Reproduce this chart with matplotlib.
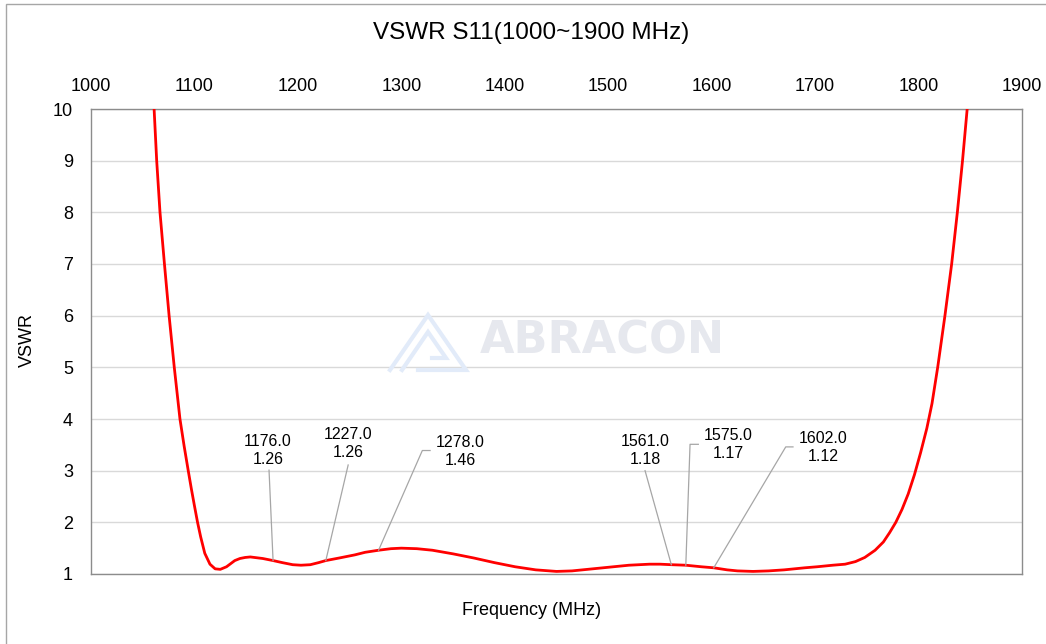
import matplotlib.pyplot as plt
from matplotlib.patches import Rectangle

plt.rcParams["font.family"] = ["Liberation Sans", "DejaVu Sans"]

# VSWR curve
freq_mhz = [1061, 1063.5, 1066.7, 1071, 1075.5, 1080.5, 1086, 1090, 1094, 1097,
            1100, 1103, 1106, 1110, 1115, 1120, 1125, 1131, 1135, 1139,
            1144, 1149, 1154, 1158, 1166, 1176, 1185, 1195, 1203, 1212,
            1220, 1227, 1240, 1255, 1265, 1278, 1290, 1300, 1315, 1330,
            1350, 1370, 1390, 1410, 1430, 1450, 1465, 1480, 1500, 1520,
            1540, 1550, 1561, 1575, 1590, 1602, 1615, 1625, 1640, 1655,
            1670, 1690, 1702, 1717, 1729, 1739, 1748, 1758, 1766, 1772,
            1778, 1784, 1790, 1796, 1802, 1808, 1813, 1818.5, 1825.5, 1832,
            1837.5, 1842.5, 1847]
vswr = [10, 9, 8, 7, 6, 5, 4, 3.48, 3.0, 2.65,
        2.32, 2.0, 1.72, 1.40, 1.19, 1.10, 1.09, 1.14, 1.20, 1.26,
        1.30, 1.32, 1.33, 1.32, 1.30, 1.26, 1.22, 1.18, 1.17, 1.18,
        1.22, 1.26, 1.31, 1.37, 1.42, 1.46, 1.49, 1.50, 1.49, 1.46,
        1.39, 1.31, 1.22, 1.14, 1.08, 1.05, 1.06, 1.09, 1.13, 1.17,
        1.19, 1.19, 1.18, 1.17, 1.14, 1.12, 1.08, 1.06, 1.05, 1.06,
        1.08, 1.12, 1.14, 1.17, 1.19, 1.24, 1.32, 1.46, 1.62, 1.80,
        2.0, 2.25, 2.55, 2.92, 3.35, 3.82, 4.3, 5.0, 6.0, 7.0,
        8.0, 9.0, 10]

# marker labels
mark_freq = [1176.0, 1227.0, 1278.0, 1561.0, 1575.0, 1602.0]
mark_vswr = [1.26, 1.26, 1.46, 1.18, 1.17, 1.12]

x_ticks = [1000, 1100, 1200, 1300, 1400, 1500, 1600, 1700, 1800, 1900]
y_ticks = [1, 2, 3, 4, 5, 6, 7, 8, 9, 10]

# label layout: text centre, leader end, stub length (all in data units)
label_pos = [(1171.1, 3.40), (1248.4, 3.53), (1356.7, 3.37),
             (1535.6, 3.39), (1615.8, 3.51), (1707.6, 3.44)]
leader_end = [(1172.1, 3.01), (1248.6, 3.11), (1320.3, 3.39),
              (1535.6, 3.00), (1579.1, 3.51), (1671.6, 3.46)]
stub_len = [0, 0, 7.5, 0, 8, 7]

W, H = 1046, 644
fig = plt.figure(figsize=(W / 100, H / 100), dpi=100)
ax = fig.add_axes([91 / W, 1 - 574 / H, 931 / W, 465 / H])

ax.plot(freq_mhz, vswr, color="#ff0000", lw=2.0, zorder=3,
        solid_joinstyle="round", solid_capstyle="round")

for i in range(len(mark_freq)):
    lx, ly = leader_end[i]
    xs = [mark_freq[i], lx]
    ys = [mark_vswr[i], ly]
    if stub_len[i]:
        xs.append(lx + stub_len[i])
        ys.append(ly)
    ax.plot(xs, ys, color="#a6a6a6", lw=0.9, zorder=4)
    tx, ty = label_pos[i]
    ax.text(tx, ty, f"{mark_freq[i]:.1f}\n{mark_vswr[i]:.2f}", ha="center",
            va="center", fontsize=11.5, linespacing=1.25, zorder=5)

ax.set_xlim(1000, 1900)
ax.set_ylim(1, 10)
ax.set_xticks(x_ticks)
ax.set_yticks(y_ticks)
ax.xaxis.tick_top()
ax.tick_params(axis="both", length=0, labelsize=13)
ax.tick_params(axis="x", pad=10)
ax.tick_params(axis="y", pad=13)
ax.grid(axis="y", color="#d9d9d9", lw=1.0)
ax.set_axisbelow(True)
for s in ax.spines.values():
    s.set_color("#8c8c8c")
    s.set_linewidth(1.0)

ax.set_xlabel("Frequency (MHz)", fontsize=13)
ax.xaxis.set_label_coords((532 - 91) / 931, (574 - 602) / 465)
ax.set_ylabel("VSWR", fontsize=13)
ax.yaxis.set_label_coords((36 - 91) / 931, (574 - 340) / 465)

fig.text(531 / W, 1 - 33 / H, "VSWR S11(1000~1900 MHz)", ha="center",
         va="center", fontsize=17.5)

# watermark
ax.text((602 - 91) / 931, (574 - 341) / 465, "ABRACON", transform=ax.transAxes,
        ha="center", va="center", fontsize=32, fontweight="bold",
        family="DejaVu Sans", color="#e6e8ee", zorder=1)


def px(x, y):
    return ((x - 91) / 931, (574 - y) / 465)


logo_outer = [px(390, 370), px(428, 315), px(466, 370), px(418, 370)]
logo_inner = [px(402, 370), px(428, 332), px(446, 358), px(432, 358)]
for path in (logo_outer, logo_inner):
    ax.plot([p[0] for p in path], [p[1] for p in path], transform=ax.transAxes,
            color="#e2ebf9", lw=3.0, zorder=1, solid_joinstyle="miter")

fig.add_artist(Rectangle((6 / W, -0.1), 1.2, 1.1 - 4 / H, transform=fig.transFigure,
                         fill=False, edgecolor="#a6a6a6", lw=1.0))

fig.savefig("out.png", dpi=100)
